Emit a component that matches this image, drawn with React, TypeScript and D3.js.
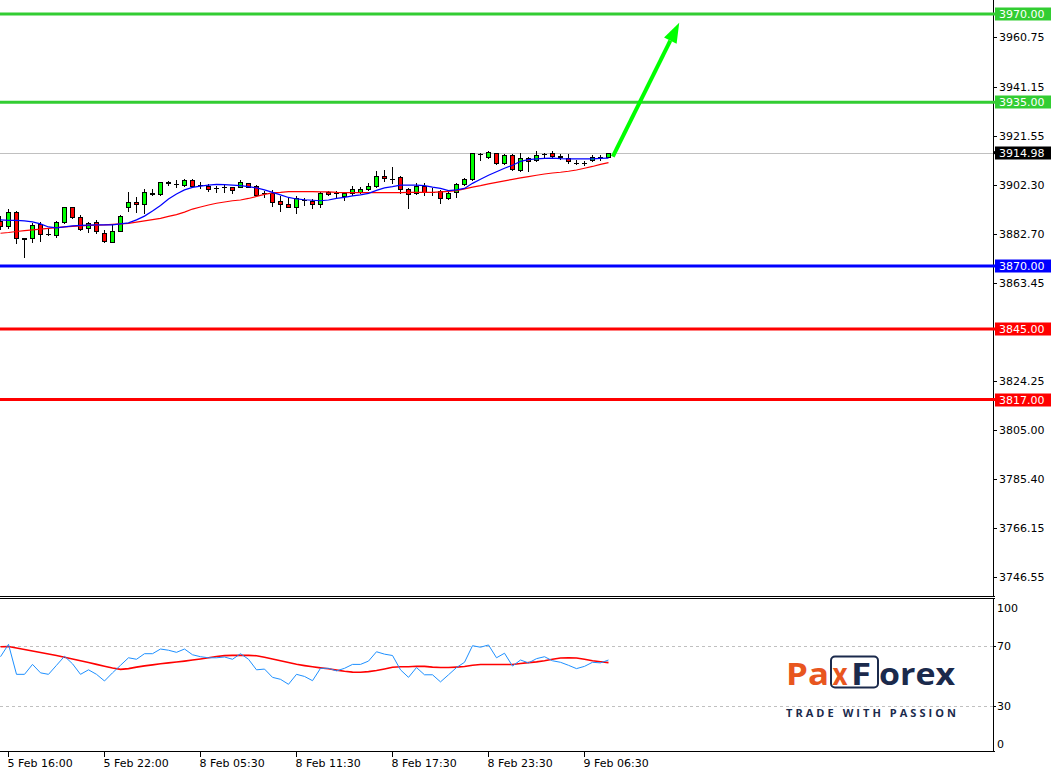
import React, { useEffect, useRef } from 'react';
import * as d3 from 'd3';

// M30 candles (bar 0 = 5 Feb 15:30)
const opens = [3887.9, 3885.9, 3891.5, 3881.0, 3881.0, 3886.7, 3882.7, 3882.3, 3887.3, 3893.3,
  3889.3, 3885.0, 3887.3, 3883.0, 3879.6, 3884.0, 3893.3, 3895.3, 3894.5, 3899.0,
  3898.6, 3903.5, 3902.5, 3902.1, 3904.1, 3902.1, 3901.9, 3900.8, 3901.2, 3901.2,
  3901.5, 3902.8, 3901.9, 3898.8, 3899.1, 3895.8, 3894.6, 3893.3, 3896.3, 3895.9,
  3894.6, 3899.2, 3898.8, 3897.8, 3898.8, 3899.5, 3900.4, 3901.7, 3905.7, 3904.4,
  3905.4, 3900.4, 3898.8, 3901.9, 3899.2, 3899.9, 3896.9, 3899.2, 3902.4, 3904.4,
  3914.4, 3913.1, 3914.7, 3910.8, 3914.0, 3908.1, 3912.7, 3912.1, 3914.4, 3914.7,
  3913.7, 3912.7, 3911.0, 3911.0, 3912.1, 3913.4, 3913.1];
const highs = [3889.8, 3892.6, 3892.0, 3881.3, 3886.9, 3887.6, 3884.6, 3888.0, 3893.5, 3893.5,
  3890.2, 3887.6, 3888.3, 3884.3, 3886.3, 3890.2, 3899.2, 3897.5, 3900.4, 3900.6,
  3903.5, 3903.7, 3904.1, 3904.4, 3904.4, 3903.3, 3902.5, 3901.7, 3902.5, 3901.5,
  3904.1, 3902.8, 3902.1, 3899.9, 3900.2, 3897.8, 3896.9, 3897.8, 3896.9, 3896.6,
  3899.5, 3899.8, 3899.8, 3899.1, 3901.7, 3901.5, 3902.8, 3907.8, 3908.1, 3909.2,
  3905.7, 3900.8, 3902.8, 3902.8, 3900.8, 3900.2, 3899.5, 3902.8, 3904.8, 3915.0,
  3914.7, 3915.6, 3915.0, 3914.3, 3914.3, 3914.7, 3913.1, 3915.6, 3914.7, 3915.6,
  3914.3, 3914.4, 3912.1, 3911.8, 3914.0, 3914.0, 3915.0];
const lows = [3884.7, 3885.1, 3879.2, 3873.7, 3879.6, 3880.0, 3882.3, 3881.6, 3886.9, 3888.9,
  3884.3, 3883.6, 3883.0, 3879.6, 3879.4, 3883.9, 3891.9, 3891.5, 3890.9, 3898.2,
  3898.2, 3902.1, 3901.5, 3901.9, 3901.9, 3900.8, 3899.9, 3899.5, 3899.5, 3898.8,
  3901.2, 3901.2, 3897.8, 3897.5, 3893.9, 3891.9, 3893.3, 3890.9, 3894.2, 3892.9,
  3893.5, 3898.2, 3896.9, 3896.2, 3898.2, 3899.1, 3900.2, 3901.2, 3903.8, 3902.8,
  3898.8, 3893.1, 3898.6, 3898.2, 3898.2, 3895.1, 3896.6, 3897.5, 3902.1, 3904.1,
  3912.1, 3912.7, 3910.5, 3910.5, 3908.1, 3907.8, 3907.8, 3911.8, 3913.4, 3912.7,
  3912.3, 3910.8, 3910.5, 3910.1, 3911.8, 3912.1, 3913.1];
const closes = [3885.9, 3891.5, 3881.0, 3880.9, 3886.3, 3882.7, 3882.6, 3887.3, 3893.3, 3889.3,
  3884.6, 3886.9, 3884.0, 3880.0, 3884.0, 3889.8, 3895.3, 3894.5, 3899.2, 3898.6,
  3903.5, 3902.8, 3902.5, 3904.1, 3901.9, 3902.1, 3900.6, 3900.8, 3901.2, 3900.2,
  3903.2, 3901.5, 3898.3, 3898.8, 3895.5, 3894.5, 3893.3, 3896.9, 3896.3, 3894.5,
  3899.1, 3898.5, 3898.8, 3898.8, 3900.4, 3900.4, 3901.7, 3905.7, 3904.8, 3904.4,
  3900.4, 3898.6, 3901.9, 3899.2, 3899.2, 3896.9, 3899.1, 3902.4, 3904.4, 3914.7,
  3914.4, 3915.4, 3910.8, 3914.0, 3908.4, 3912.7, 3911.8, 3914.0, 3914.4, 3913.7,
  3913.4, 3911.8, 3911.0, 3911.0, 3913.4, 3913.4, 3914.98];

// moving averages on price (blue = fast, red = slow)
const maFast = [3888.3, 3888.1, 3888.1, 3887.9, 3887.5, 3886.7, 3885.5, 3885.1, 3885.5, 3885.9,
  3886.1, 3886.2, 3886.3, 3886.3, 3886.3, 3886.7, 3887.1, 3888.3, 3889.8, 3891.8,
  3894.0, 3896.6, 3898.6, 3900.2, 3901.2, 3901.7, 3902.1, 3902.4, 3902.3, 3902.1,
  3901.9, 3901.5, 3901.0, 3900.2, 3899.2, 3898.2, 3897.2, 3896.6, 3896.3, 3896.1,
  3895.9, 3896.2, 3896.8, 3897.2, 3897.8, 3898.2, 3898.8, 3900.0, 3901.0, 3901.5,
  3902.1, 3902.1, 3902.1, 3901.9, 3901.3, 3900.8, 3899.9, 3900.2, 3900.8, 3902.8,
  3904.4, 3906.0, 3907.4, 3908.8, 3910.0, 3911.5, 3912.2, 3912.5, 3912.7, 3912.8,
  3912.6, 3912.5, 3912.5, 3912.5, 3912.5, 3912.7, 3912.8];
const maSlow = [3883.0, 3883.3, 3883.7, 3884.0, 3884.3, 3884.6, 3884.9, 3885.2, 3885.5, 3885.7,
  3885.9, 3886.1, 3886.2, 3886.3, 3886.5, 3886.7, 3886.9, 3887.4, 3887.9, 3888.4,
  3888.9, 3889.7, 3890.4, 3891.4, 3892.6, 3893.4, 3894.2, 3894.9, 3895.4, 3895.9,
  3896.2, 3896.8, 3897.6, 3898.4, 3899.0, 3899.2, 3899.5, 3899.5, 3899.5, 3899.5,
  3899.4, 3899.4, 3899.2, 3899.1, 3899.1, 3899.1, 3899.1, 3899.1, 3899.1, 3899.1,
  3899.1, 3899.2, 3899.2, 3899.2, 3899.2, 3899.4, 3899.6, 3899.9, 3900.6, 3901.3,
  3901.9, 3902.6, 3903.2, 3903.8, 3904.4, 3905.0, 3905.5, 3906.0, 3906.5, 3906.9,
  3907.2, 3907.6, 3908.1, 3908.8, 3909.5, 3910.3, 3911.0];

// RSI sub-window
const rsi = [62.7, 70.9, 51, 51, 57.6, 52, 51, 57, 63, 58,
  51, 54, 51, 46.6, 52, 57, 62, 61, 64.7, 64.7,
  67.8, 67, 65.6, 67.8, 64, 62.7, 62, 62, 62.5, 61,
  64.7, 61, 54, 54.5, 49, 47.7, 44.4, 51, 49.6, 46.8,
  55, 55, 53.3, 55, 57.6, 57.6, 59.8, 66, 64.4, 63.5,
  54, 49, 55.5, 50.7, 50.7, 46, 50.7, 55.5, 59, 70,
  69, 70.5, 62, 65, 56.5, 60.5, 58.6, 61.4, 62.7, 60,
  59, 57, 54.8, 56.3, 59, 58.6, 60.5];
const rsiSignal = [69.3, 69.5, 68.5, 67.5, 66.5, 65.5, 64.5, 63.5, 62.3, 61.2,
  60, 58.8, 57.6, 56.4, 55.2, 54.3, 54.8, 55.8, 56.6, 57.3,
  58, 58.6, 59.2, 59.8, 60.5, 61.2, 62, 62.8, 63.4, 63.6,
  63.7, 63.6, 63.3, 62.3, 61.2, 60, 58.8, 57.7, 56.8, 56,
  55.3, 54.7, 53.8, 53, 52.5, 52.4, 52.8, 53.6, 54.6, 55.7,
  56, 56, 56.4, 56.3, 55.8, 55.5, 55.5, 55.8, 56.2, 57,
  57.5, 57.5, 57.5, 57.5, 57.5, 58.2, 58.8, 59.3, 60, 61,
  61.8, 62, 61.8, 61, 60, 59.4, 58.8];

const priceTicks = [3960.75, 3941.15, 3921.55, 3902.30, 3882.70, 3863.45, 3824.25, 3805.00, 3785.40, 3766.15, 3746.55];
const levels = [
  { price: 3970, color: '#32cd32' },
  { price: 3935, color: '#32cd32' },
  { price: 3870, color: '#0000ff' },
  { price: 3845, color: '#ff0000' },
  { price: 3817, color: '#ff0000' },
];
const lastPrice = 3914.98;
const timeTicks = [
  { bar: 1, label: '5 Feb 16:00' },
  { bar: 13, label: '5 Feb 22:00' },
  { bar: 25, label: '8 Feb 05:30' },
  { bar: 37, label: '8 Feb 11:30' },
  { bar: 49, label: '8 Feb 17:30' },
  { bar: 61, label: '8 Feb 23:30' },
  { bar: 73, label: '9 Feb 06:30' },
];
const rsiTicks = [100, 70, 30, 0];
const rsiLevels = [70, 30];
const arrow = { fromBar: 76.6, fromPrice: 3913.4, toBar: 84.9, toPrice: 3966.5 };

const W = 1057;
const H = 773;
const axisX = 993;
const FONT = 'DejaVu Sans';

const ChartView: React.FC = () => {
  const svgRef = useRef<SVGSVGElement>(null);

  useEffect(() => {
    if (!svgRef.current) return;
    const svg = d3.select(svgRef.current);
    svg.selectAll('*').remove();

    const x = d3.scaleLinear().domain([0, 124]).range([0, 992]);
    const y = d3.scaleLinear().domain([3870, 3970]).range([266, 14]);
    const yr = d3.scaleLinear().domain([0, 100]).range([751.2, 600.5]);
    const fmt = d3.format('.2f');

    svg.append('rect').attr('width', W).attr('height', H).attr('fill', '#fff');

    // main window clip
    svg.append('clipPath').attr('id', 'mainClip')
      .append('rect').attr('x', 0).attr('y', 0).attr('width', axisX).attr('height', 596);
    svg.append('clipPath').attr('id', 'rsiClip')
      .append('rect').attr('x', 0).attr('y', 599).attr('width', axisX).attr('height', 152);

    const main = svg.append('g').attr('clip-path', 'url(#mainClip)');

    // current price line
    main.append('line')
      .attr('x1', 0).attr('x2', axisX)
      .attr('y1', Math.round(y(lastPrice)) + 0.5).attr('y2', Math.round(y(lastPrice)) + 0.5)
      .attr('stroke', '#c0c0c0').attr('stroke-width', 1);

    // support / resistance levels
    main.selectAll('.level')
      .data(levels)
      .enter()
      .append('line')
      .attr('x1', 0).attr('x2', axisX)
      .attr('y1', d => y(d.price)).attr('y2', d => y(d.price))
      .attr('stroke', d => d.color)
      .attr('stroke-width', 3);

    const bars = d3.range(opens.length);

    // candles
    const candle = main.selectAll('.candle')
      .data(bars)
      .enter()
      .append('g')
      .attr('class', 'candle')
      .attr('shape-rendering', 'crispEdges');

    candle.append('line')
      .attr('x1', i => Math.round(x(i)) + 0.5)
      .attr('x2', i => Math.round(x(i)) + 0.5)
      .attr('y1', i => Math.round(y(highs[i])))
      .attr('y2', i => Math.round(y(lows[i])) + 1)
      .attr('stroke', '#000');

    candle.each(function (i) {
      const g = d3.select(this);
      const cx = Math.round(x(i));
      const yo = Math.round(y(opens[i]));
      const yc = Math.round(y(closes[i]));
      if (Math.abs(yo - yc) < 1) {
        g.append('line')
          .attr('x1', cx - 2).attr('x2', cx + 3)
          .attr('y1', yo + 0.5).attr('y2', yo + 0.5)
          .attr('stroke', '#000');
        return;
      }
      const up = closes[i] > opens[i];
      g.append('rect')
        .attr('x', cx - 1.5)
        .attr('y', Math.min(yo, yc) + 0.5)
        .attr('width', 4)
        .attr('height', Math.abs(yo - yc))
        .attr('fill', up ? '#00ff00' : '#ff0000')
        .attr('stroke', '#000')
        .attr('stroke-width', 1);
    });

    // moving averages
    const maLine = (vals: number[]) => d3.line<number>()
      .x((_, i) => x(i) + 0.5)
      .y(v => y(v))(vals);

    main.append('path').attr('d', maLine(maSlow))
      .attr('fill', 'none').attr('stroke', '#ff0000').attr('stroke-width', 1.2);
    main.append('path').attr('d', maLine(maFast))
      .attr('fill', 'none').attr('stroke', '#0000ff').attr('stroke-width', 1.2);

    // arrow
    const ax1 = x(arrow.fromBar), ay1 = y(arrow.fromPrice);
    const ax2 = x(arrow.toBar), ay2 = y(arrow.toPrice);
    const ang = Math.atan2(ay2 - ay1, ax2 - ax1);
    const headLen = 20, headW = 7;
    const bx = ax2 - headLen * Math.cos(ang), by = ay2 - headLen * Math.sin(ang);
    main.append('line')
      .attr('x1', ax1).attr('y1', ay1).attr('x2', bx).attr('y2', by)
      .attr('stroke', '#00ff00').attr('stroke-width', 4);
    main.append('path')
      .attr('d', `M${ax2},${ay2}L${bx + headW * Math.sin(ang)},${by - headW * Math.cos(ang)}L${bx - headW * Math.sin(ang)},${by + headW * Math.cos(ang)}Z`)
      .attr('fill', '#00ff00');

    // RSI window
    const sub = svg.append('g').attr('clip-path', 'url(#rsiClip)');
    sub.selectAll('.rsiLevel')
      .data(rsiLevels)
      .enter()
      .append('line')
      .attr('x1', 0).attr('x2', axisX)
      .attr('y1', d => Math.round(yr(d)) + 0.5).attr('y2', d => Math.round(yr(d)) + 0.5)
      .attr('stroke', '#c0c0c0')
      .attr('stroke-dasharray', '3,3');

    const rsiLine = (vals: number[]) => d3.line<number>()
      .x((_, i) => x(i) + 0.5)
      .y(v => yr(v))(vals);
    sub.append('path').attr('d', rsiLine(rsiSignal))
      .attr('fill', 'none').attr('stroke', '#ff0000').attr('stroke-width', 1.6);
    sub.append('path').attr('d', rsiLine(rsi))
      .attr('fill', 'none').attr('stroke', '#1e90ff').attr('stroke-width', 1);

    // frames
    const frame = svg.append('g').attr('stroke', '#000').attr('shape-rendering', 'crispEdges');
    frame.append('line').attr('x1', axisX + 0.5).attr('x2', axisX + 0.5).attr('y1', 0).attr('y2', 597);
    frame.append('line').attr('x1', axisX + 0.5).attr('x2', axisX + 0.5).attr('y1', 598).attr('y2', 752);
    frame.append('line').attr('x1', 0).attr('x2', axisX + 2).attr('y1', 596.5).attr('y2', 596.5);
    frame.append('line').attr('x1', 0).attr('x2', axisX + 2).attr('y1', 598.5).attr('y2', 598.5);
    frame.append('line').attr('x1', 0).attr('x2', axisX + 2).attr('y1', 751.5).attr('y2', 751.5);

    // price axis
    const pAxis = svg.append('g').attr('font-family', FONT).attr('font-size', 11);
    priceTicks.forEach(p => {
      const py = Math.round(y(p)) + 0.5;
      pAxis.append('line').attr('x1', axisX).attr('x2', axisX + 4).attr('y1', py).attr('y2', py)
        .attr('stroke', '#000').attr('shape-rendering', 'crispEdges');
      pAxis.append('text').attr('x', 999).attr('y', py).attr('dy', '0.36em')
        .attr('fill', '#000').text(fmt(p));
    });

    const tag = (price: number, bg: string) => {
      const py = y(price);
      pAxis.append('line').attr('x1', axisX).attr('x2', axisX + 4).attr('y1', py).attr('y2', py)
        .attr('stroke', bg).attr('stroke-width', 3);
      pAxis.append('rect').attr('x', 995).attr('y', Math.round(py) - 6.5)
        .attr('width', 56).attr('height', 13).attr('fill', bg);
      pAxis.append('text').attr('x', 999).attr('y', py).attr('dy', '0.36em')
        .attr('fill', '#fff').text(fmt(price));
    };
    tag(lastPrice, '#000');
    levels.forEach(l => tag(l.price, l.color));

    // RSI axis
    const rAxis = svg.append('g').attr('font-family', FONT).attr('font-size', 11);
    rsiTicks.forEach(v => {
      const ry = Math.round(yr(v)) + 0.5;
      if (v > 0 && v < 100) {
        rAxis.append('line').attr('x1', axisX).attr('x2', axisX + 3).attr('y1', ry).attr('y2', ry)
          .attr('stroke', '#000').attr('shape-rendering', 'crispEdges');
      }
      const ty = v === 100 ? ry + 7 : v === 0 ? ry - 7 : ry;
      rAxis.append('text').attr('x', 997).attr('y', ty).attr('dy', '0.36em')
        .attr('fill', '#000').text(v);
    });

    // time axis
    const tAxis = svg.append('g').attr('font-family', FONT).attr('font-size', 11);
    timeTicks.forEach(t => {
      const tx = Math.round(x(t.bar)) + 0.5;
      tAxis.append('line').attr('x1', tx).attr('x2', tx).attr('y1', 752).attr('y2', 757)
        .attr('stroke', '#000').attr('shape-rendering', 'crispEdges');
      tAxis.append('text').attr('x', tx - 1).attr('y', 767).attr('fill', '#000').text(t.label);
    });

    // PaxForex logo
    const orange = '#e8561f';
    const navy = '#1b2a4c';
    const logo = svg.append('g').attr('font-family', 'Open Sans').attr('font-weight', 700);
    logo.append('rect').attr('x', 831).attr('y', 656.5).attr('width', 47).attr('height', 31)
      .attr('rx', 4).attr('fill', 'none').attr('stroke', navy).attr('stroke-width', 2);
    const word = (s: string, lx: number, len: number, col: string) => logo.append('text')
      .attr('x', lx).attr('y', 685).attr('font-size', 30)
      .attr('textLength', len).attr('lengthAdjust', 'spacingAndGlyphs')
      .attr('fill', col).text(s);
    word('Pa', 786, 43, orange);
    word('x', 832.5, 15, orange);
    word('F', 851, 20, navy);
    word('orex', 879, 76, navy);
    logo.append('text').attr('x', 786).attr('y', 716.5).attr('font-size', 11)
      .attr('textLength', 170).attr('lengthAdjust', 'spacing')
      .attr('fill', navy).text('TRADE WITH PASSION');
  }, []);

  return <svg ref={svgRef} width={W} height={H} style={{ position: 'absolute', left: 0, top: 0 }} />;
};

export default function App() {
  return <ChartView />;
}
